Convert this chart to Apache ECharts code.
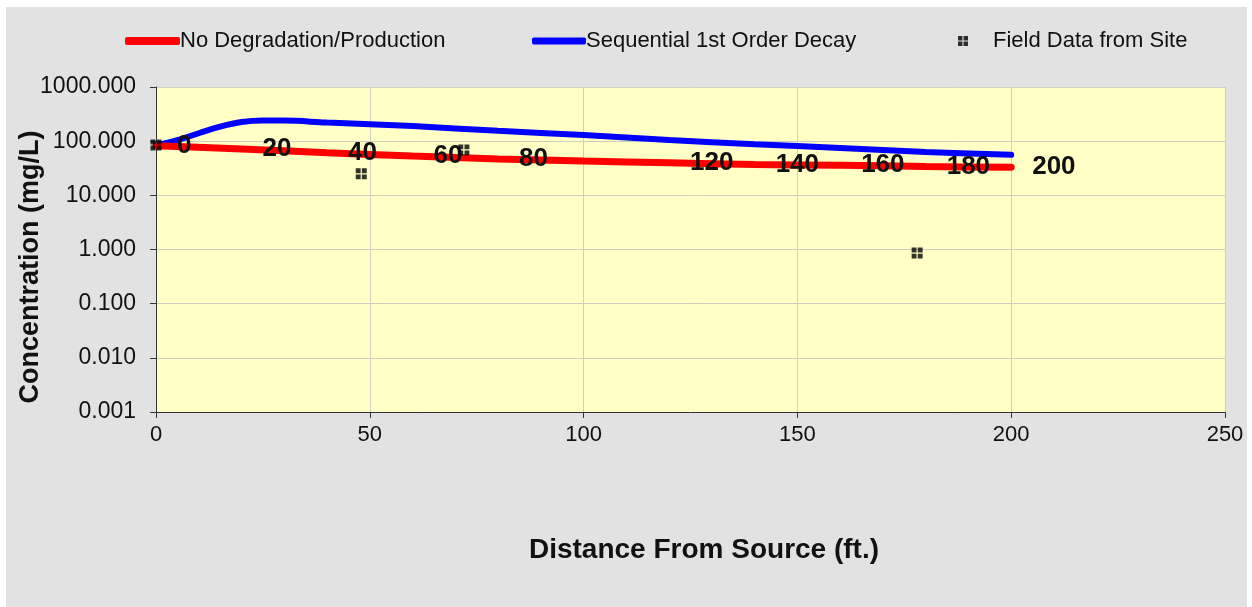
<!DOCTYPE html>
<html><head><meta charset="utf-8">
<script src="https://cdn.jsdelivr.net/npm/echarts@6/dist/echarts.min.js"></script>
<style>html,body{margin:0;padding:0;background:#fff;}#c{width:1252px;height:607px;}</style>
</head><body><div id="c"></div>
<script>
const distances = [0, 20, 40, 60, 80, 100, 120, 140, 160, 180, 200];
const noDegradation = [82, 72, 61, 53, 47, 43, 40, 37, 36, 34, 33];
const blueX = [0, 5, 10, 15, 20, 25, 30, 40, 60, 80, 100, 120, 140, 160, 180, 200];
const sequentialDecay = [85, 105, 140, 185, 225, 240, 240, 220, 190, 155, 130, 105, 88, 75, 63, 56];
const fieldX = [0, 48, 72, 178];
const fieldY = [85, 25, 69, 0.86];
const hiddenLabels = [100];
const yTickLabels = {0.001:'0.001',0.01:'0.010',0.1:'0.100',1:'1.000',10:'10.000',100:'100.000',1000:'1000.000'};
const xTitle = 'Distance From Source (ft.)';
const yTitle = 'Concentration (mg/L)';

const font = '"Liberation Sans", Arial, sans-serif';
const markerPath = 'path://M0,0h4v4h-4z M5,0h4v4h-4z M0,5h4v4h-4z M5,5h4v4h-4z';
const legendText = {fontFamily: font, fontSize: 22, color:'#111'};

const chart = echarts.init(document.getElementById('c'));
chart.setOption({
  animation: false,
  backgroundColor: '#ffffff',
  graphic: [
    {type:'rect', z:-10, shape:{x:6,y:7,width:1241,height:600}, style:{fill:'#e2e2e2'}},
    {type:'text', x:704, y:550, style:{text:xTitle, fontFamily:font, fontSize:28, fontWeight:'bold', fill:'#111', align:'center', verticalAlign:'middle'}},
    {type:'text', x:31, y:267, rotation:Math.PI/2, style:{text:yTitle, fontFamily:font, fontSize:27, fontWeight:'bold', fill:'#111', align:'center', verticalAlign:'middle'}}
  ],
  grid: {left:156, right:27, top:87, bottom:195, show:true, backgroundColor:'#ffffc6', borderWidth:0},
  legend: [
    {top: 25, left: 120, itemWidth: 55, itemHeight: 8, textStyle: Object.assign({padding:[0,0,0,-5]}, legendText),
     data: [{name:'No Degradation/Production', icon:'roundRect', itemStyle:{color:'#ff0000', opacity:1}}]},
    {top: 25, left: 527, itemWidth: 54, itemHeight: 7, textStyle: Object.assign({padding:[0,0,0,-5]}, legendText),
     data: [{name:'Sequential 1st Order Decay', icon:'roundRect', itemStyle:{color:'#0000ff'}}]},
    {top: 25, left: 953, itemWidth: 10, itemHeight: 10, textStyle: Object.assign({padding:[0,0,0,20]}, legendText),
     data: [{name:'Field Data from Site', icon: markerPath, itemStyle:{color:'#000'}}]}
  ],
  xAxis: {
    type:'value', min:0, max:250, interval:50,
    axisLine:{show:true, onZero:false, lineStyle:{color:'#333', width:1}},
    axisTick:{show:true, inside:false, length:6, lineStyle:{color:'#333'}},
    axisLabel:{fontFamily:font, fontSize:22, color:'#111', margin:12},
    splitLine:{show:true, lineStyle:{color:'#cfcfc0', width:1}}
  },
  yAxis: {
    type:'log', logBase:10, min:0.001, max:1000,
    axisLine:{show:true, lineStyle:{color:'#333', width:1}},
    axisTick:{show:true, length:6, lineStyle:{color:'#333'}},
    axisLabel:{fontFamily:font, fontSize:23, color:'#111', margin:20,
      formatter: v => { const k = Object.keys(yTickLabels).find(t => Math.abs(Math.log10(+t) - Math.log10(v)) < 1e-6); return k ? yTickLabels[k] : ''; }},
    splitLine:{show:true, lineStyle:{color:'#cfcfc0', width:1}}
  },
  series: [
    {
      name:'Sequential 1st Order Decay', type:'line', smooth:0.4, symbol:'none',
      lineStyle:{color:'#0000ff', width:6, cap:'round'},
      data: blueX.map((x,i)=>[x, sequentialDecay[i]]), z:3
    },
    {
      name:'No Degradation/Production', type:'line', smooth:0.3, symbol:'circle', symbolSize:2, showSymbol:true,
      itemStyle:{color:'#ff0000'},
      lineStyle:{color:'#ff0000', width:7, cap:'round'},
      data: distances.map((x,i)=>({value:[x, noDegradation[i]], label:{show: !hiddenLabels.includes(x)}})),
      label:{show:true, position:'right', distance:20, formatter: p => String(p.value[0]),
        fontFamily:font, fontSize:26, fontWeight:'bold', color:'#111'},
      labelLayout:{hideOverlap:false},
      z:4
    },
    {
      name:'Field Data from Site', type:'scatter', symbol: markerPath, symbolSize:11,
      itemStyle:{color:'#000'},
      data: fieldX.map((x,i)=>[x, fieldY[i]]), z:5
    }
  ]
});
</script></body></html>
